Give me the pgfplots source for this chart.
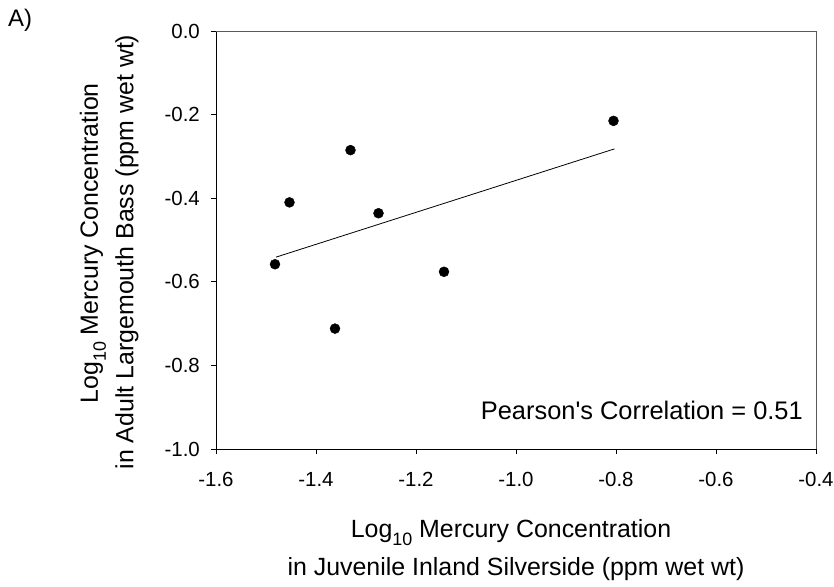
\documentclass[border=0pt]{standalone}
\usepackage{pgfplots}
\pgfplotsset{compat=1.18}
\usepackage{fontspec}
\setmainfont{Liberation Sans}
\begin{document}
\begin{tikzpicture}
\begin{axis}[
  at={(0,0)}, anchor=south west,
  scale only axis, width=600bp, height=418bp,
  xmin=-1.6, xmax=-0.4, ymin=-1, ymax=0,
  xtick={-1.6,-1.4,-1.2,-1.0,-0.8,-0.6,-0.4},
  xticklabels={-1.6,-1.4,-1.2,-1.0,-0.8,-0.6,-0.4},
  ytick={-1,-0.8,-0.6,-0.4,-0.2,0},
  yticklabels={-1.0,-0.8,-0.6,-0.4,-0.2,0.0},
  tick align=outside, major tick length=5bp,
  axis x line*=bottom, axis y line*=left,
  axis line style={black, line width=0.8bp},
  tick style={black, line width=0.8bp},
  xticklabel style={font=\fontsize{20.5}{23}\selectfont, anchor=north, inner sep=0pt, yshift=-18bp},
  yticklabel style={font=\fontsize{20.5}{23}\selectfont, anchor=east, inner sep=0pt, xshift=-11bp},
  clip=false,
]
\addplot[only marks, mark=*, mark size=5bp, black] coordinates {
  (-1.482,-0.558) (-1.453,-0.410) (-1.331,-0.285) (-1.275,-0.436)
  (-1.144,-0.576) (-1.362,-0.712) (-0.805,-0.215)
};
\addplot[black, line width=0.8bp] coordinates {(-1.480,-0.541) (-0.803,-0.282)};
\draw[black!65, line width=0.8bp] (rel axis cs:0,1) -- (rel axis cs:1,1) -- (rel axis cs:1,0);
\end{axis}
\node[anchor=base east, inner sep=0pt, font=\fontsize{25.5}{30}\selectfont] at (587bp,30bp) {Pearson\textquotesingle s Correlation = 0.51};
\node[anchor=base, inner sep=0pt, font=\fontsize{25}{30}\selectfont] at (295bp,-88bp) {Log\raisebox{-8bp}{\fontsize{18}{20}\selectfont 10} Mercury Concentration};
\node[anchor=base, inner sep=0pt, font=\fontsize{25}{30}\selectfont] at (300bp,-126bp) {in Juvenile Inland Silverside (ppm wet wt)};
\node[rotate=90, anchor=base, inner sep=0pt, font=\fontsize{25}{30}\selectfont] at (-118bp,205.7bp) {Log\raisebox{-8bp}{\fontsize{18}{20}\selectfont 10} Mercury Concentration};
\node[rotate=90, anchor=base, inner sep=0pt, font=\fontsize{25}{30}\selectfont] at (-82.7bp,197bp) {in Adult Largemouth Bass (ppm wet wt)};
\node[anchor=base west, inner sep=0pt, font=\fontsize{24}{28}\selectfont] at (-208bp,422bp) {A)};
\pgfresetboundingbox
\useasboundingbox (-216bp,-138bp) rectangle (618bp,449bp);
\end{tikzpicture}
\end{document}
